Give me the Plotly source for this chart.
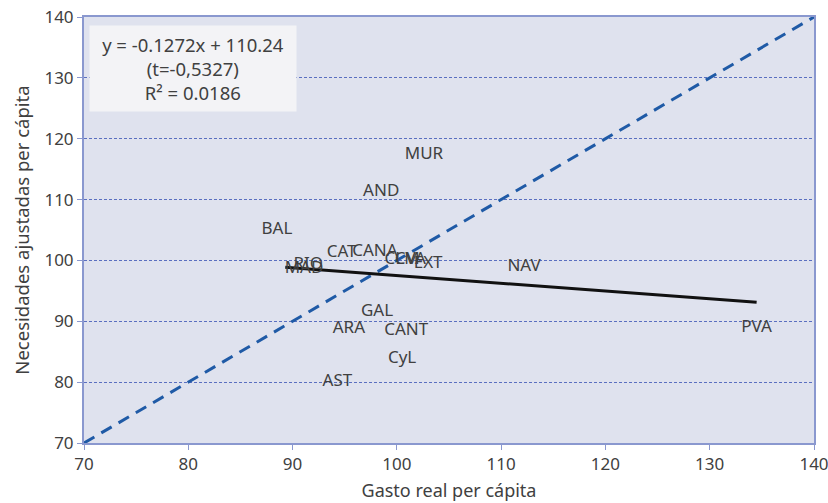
import plotly.graph_objects as go

regions = ["MUR", "AND", "BAL", "CAT", "CANA", "CLM", "CVA", "EXT", "NAV",
           "RIO", "MAD", "GAL", "ARA", "CANT", "CyL", "AST", "PVA"]
gasto = [102.6, 98.5, 88.5, 94.7, 97.9, 100.5, 101.3, 103.0, 112.2,
         91.5, 91.1, 98.1, 95.4, 100.9, 100.5, 94.3, 134.5]
necesidades = [117.4, 111.3, 105.1, 101.3, 101.5, 100.1, 100.1, 99.5, 98.9,
               99.3, 98.7, 91.5, 88.7, 88.5, 83.9, 80.0, 89.0]

slope = -0.1272
intercept = 110.24
trend_x = [89.3, 134.5]
trend_y = [slope * x + intercept for x in trend_x]
diag = [70, 140]

text_color = "#404040"
font_family = "Noto Sans, sans-serif"
axis_color = "#8a98cf"

fig = go.Figure()
fig.add_trace(go.Scatter(x=diag, y=diag, mode="lines",
                         line=dict(color="#1f5aa6", width=3, dash="12px,8px"),
                         showlegend=False, hoverinfo="skip"))
fig.add_trace(go.Scatter(x=trend_x, y=trend_y, mode="lines",
                         line=dict(color="#111111", width=3),
                         showlegend=False, hoverinfo="skip"))
fig.add_trace(go.Scatter(x=gasto, y=necesidades, mode="text", text=regions,
                         textposition="middle center",
                         textfont=dict(size=17, color=text_color, family=font_family),
                         showlegend=False))

fig.add_annotation(xref="paper", yref="paper", x=0.149, y=0.981,
                   xanchor="center", yanchor="top", showarrow=False,
                   text="y = -0.1272x + 110.24<br>(t=-0,5327)<br>R² = 0.0186",
                   align="center", bgcolor="#f3f3f6", borderpad=6, width=194,
                   font=dict(size=18.5, color=text_color, family=font_family))

fig.update_layout(
    width=828, height=503,
    margin=dict(l=84, r=14, t=17, b=60),
    paper_bgcolor="white", plot_bgcolor="#dfe2ee",
    font=dict(family=font_family, color=text_color, size=17),
)
fig.update_xaxes(range=[70, 140], tickvals=[70, 80, 90, 100, 110, 120, 130, 140],
                 showgrid=False, zeroline=False, automargin=False,
                 ticklabeloverflow="allow",
                 showline=True, linecolor=axis_color, linewidth=2, mirror=True,
                 ticks="outside", ticklen=5, tickcolor=axis_color,
                 tickfont=dict(size=17, color=text_color),
                 title=dict(text="Gasto real per cápita", font=dict(size=18, color=text_color), standoff=10))
fig.update_yaxes(range=[70, 140], tickvals=[70, 80, 90, 100, 110, 120, 130, 140],
                 showgrid=True, gridcolor="#5a6fc0", gridwidth=1, griddash="3px,2px",
                 zeroline=False, automargin=False,
                 ticklabeloverflow="allow",
                 showline=True, linecolor=axis_color, linewidth=2, mirror=True,
                 ticks="outside", ticklen=5, tickcolor=axis_color,
                 tickfont=dict(size=17, color=text_color),
                 title=dict(text="Necesidades ajustadas per cápita", font=dict(size=18.5, color=text_color), standoff=10))

fig.write_html("out.html")
